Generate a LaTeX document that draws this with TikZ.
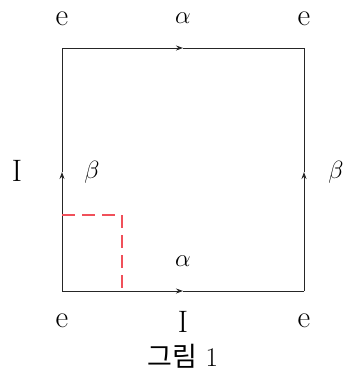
\documentclass[tikz,border=0pt]{standalone}
\usepackage{fontspec}
\newfontfamily\kr{Noto Sans CJK KR}
\usetikzlibrary{arrows.meta}
\begin{document}
\begin{tikzpicture}[x=1pt,y=-1pt,
  edge/.style={line width=0.9pt,black!85},
  tipped/.style={edge,-{Stealth[length=7pt,width=5pt]}},
  lbl/.style={inner sep=0pt,font=\fontsize{31}{36}\selectfont},
  mlbl/.style={inner sep=0pt,font=\fontsize{30}{34}\selectfont},
  reddash/.style={line width=1.2pt,color={rgb,255:red,240;green,80;blue,90},dash pattern=on 13pt off 7pt}]
\useasboundingbox (0,0) rectangle (344,378);
\coordinate (BL) at (62,291);
\coordinate (BR) at (304,291);
\coordinate (TL) at (62,48);
\coordinate (TR) at (304,48);
\coordinate (mT) at (183,48);
\coordinate (mB) at (183,291);
\coordinate (mL) at (62,172);
\coordinate (mR) at (304,172);
\coordinate (r1) at (62,215);
\coordinate (r2) at (122,215);
\coordinate (r3) at (122,291);
% edges
\draw[tipped] (TL) -- (mT);
\draw[edge] (mT) -- (TR);
\draw[tipped] (BL) -- (mB);
\draw[edge] (mB) -- (BR);
\draw[tipped] (BL) -- (mL);
\draw[edge] (mL) -- (TL);
\draw[tipped] (BR) -- (mR);
\draw[edge] (mR) -- (TR);
% red dashed
\draw[reddash] (r1) -- (r2) -- (r3);
% labels
\node[lbl] (eTL) at (62,19) {e};
\node[mlbl] (aT) at (183,18) {$\alpha$};
\node[lbl] (eTR) at (304,19) {e};
\node[lbl] (IL) at (17,171) {I};
\node[mlbl] (bL) at (92,172) {$\beta$};
\node[mlbl] (bR) at (336,172) {$\beta$};
\node[mlbl] (aB) at (183,261) {$\alpha$};
\node[lbl] (eBL) at (62,321) {e};
\node[lbl] (IB) at (183,322) {I};
\node[lbl] (eBR) at (304,321) {e};
\node[inner sep=0pt,font=\fontsize{27}{32}\selectfont] (cap) at (183,356) {{\kr 그림} 1};
\end{tikzpicture}
\end{document}
